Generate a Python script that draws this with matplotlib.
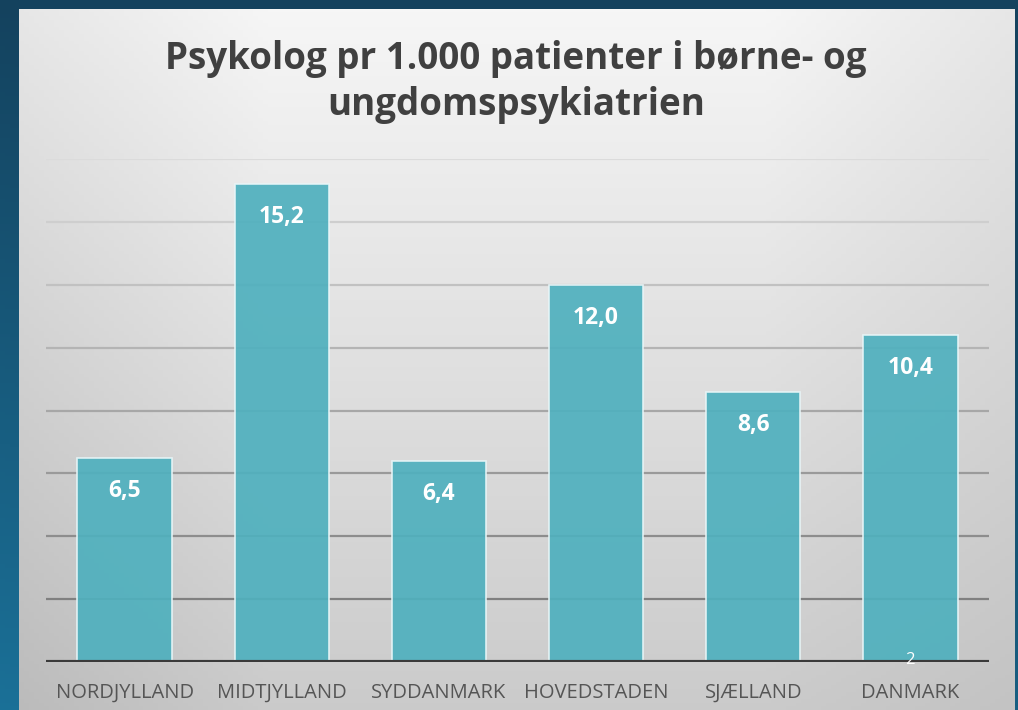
import matplotlib.pyplot as plt
import numpy as np

# Data
regions = ["NORDJYLLAND", "MIDTJYLLAND", "SYDDANMARK", "HOVEDSTADEN", "SJÆLLAND", "DANMARK"]
values = [6.5, 15.2, 6.4, 12.0, 8.6, 10.4]
grid_levels = [2, 4, 6, 8, 10, 12, 14, 16]

W, H = 1018, 710
fig = plt.figure(figsize=(W / 100, H / 100), dpi=100)

# dark blue slide background
bg = fig.add_axes([0, 0, 1, 1])
yy, xx = np.mgrid[0:1:200j, 0:1:200j]
t = np.clip(yy * 0.8 + (1 - xx) * 0.3 - 0.3, 0, 1)
top = np.array([0x14, 0x42, 0x5e]) / 255
bot = np.array([0x1c, 0x7c, 0xa6]) / 255
bg.imshow(top + (bot - top) * t[..., None], extent=[0, 1, 0, 1], origin="upper", aspect="auto")
bg.set_axis_off()

# light gray panel
panel = fig.add_axes([19 / W, 0, 996 / W, 701 / H])
yy, xx = np.mgrid[0:1:200j, 0:1:200j]
g = 0.965 - 0.17 * yy - 0.06 * np.clip(1 - xx * 4, 0, 1) - 0.06 * np.clip((xx - 0.75) * 4, 0, 1) * (1 - yy * 0.5)
panel.imshow(np.dstack([g, g, g]), extent=[0, 1, 0, 1], origin="upper", aspect="auto", vmin=0, vmax=1)
panel.set_axis_off()

# chart
ax = fig.add_axes([46 / W, (H - 662) / H, 943 / W, 503 / H])
ax.set_facecolor("none")
ax.set_xlim(-0.5, len(regions) - 0.5)
ax.set_ylim(0, 16)

for lv in grid_levels:
    c = 0.45 + 0.41 * lv / 16
    ax.axhline(lv, color=(c, c, c), lw=1.6, zorder=1)

x = np.arange(len(regions))
ax.bar(x, values, width=0.6, color="#4fb0be", alpha=0.92, edgecolor="#e8f6f8", linewidth=1.2, zorder=2)
ax.axhline(0, color="#3a3a3a", lw=3, zorder=3)

for xi, v in zip(x, values):
    ax.annotate(f"{v:.1f}".replace(".", ","), (xi, v), xytext=(0, -24), textcoords="offset points",
                ha="center", va="center", color="white", fontsize=16.5, fontweight="bold",
                family="Open Sans", zorder=4)

ax.set_xticks(x)
ax.set_xticklabels(regions, fontsize=14.5, color="#555555", family="Open Sans")
ax.tick_params(axis="x", length=0, pad=15)
ax.set_yticks([])
for s in ax.spines.values():
    s.set_visible(False)

fig.text(910 / W, 1 - 660 / H, "2", color="white", fontsize=12, ha="center", va="center", family="Open Sans")

fig.text(516 / W, 1 - 82 / H, "Psykolog pr 1.000 patienter i børne- og\nungdomspsykiatrien",
         ha="center", va="center", fontsize=26.5, fontweight="bold", color="#404040",
         family="Open Sans", linespacing=1.3)

fig.savefig("out.png", dpi=100)
